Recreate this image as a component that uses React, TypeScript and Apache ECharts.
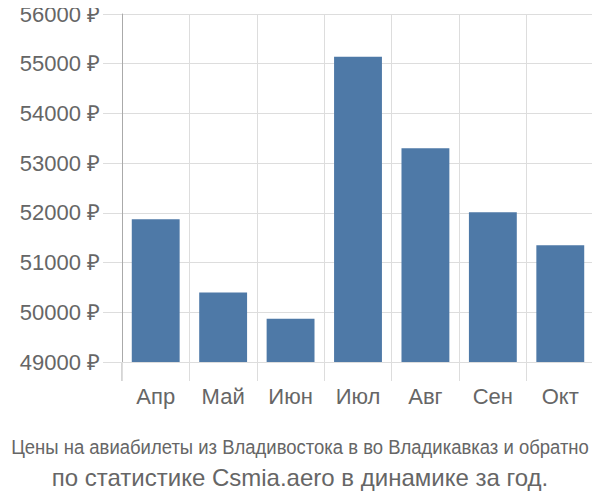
import React, { useEffect, useRef } from "react";
import * as echarts from "echarts";

const categories = ["Апр", "Май", "Июн", "Июл", "Авг", "Сен", "Окт"];
const prices = [51870, 50400, 49870, 55140, 53300, 52010, 51350];
const yMin = 49000;
const yMax = 56000;
const yStep = 1000;
const titleLine1 = "Цены на авиабилеты из Владивостока в во Владикавказ и обратно";
const titleLine2 = "по статистике Csmia.aero в динамике за год.";

const FONT = "'Liberation Sans', Arial, sans-serif";

export default function App() {
  const ref = useRef<HTMLDivElement>(null);
  useEffect(() => {
    if (!ref.current) return;
    const chart = echarts.init(ref.current, null, { renderer: "svg" });
    chart.setOption({
      animation: false,
      grid: { left: 122, right: 6, top: 14, bottom: 138, containLabel: false },
      xAxis: {
        type: "category",
        data: categories,
        axisLine: { show: false },
        axisTick: { show: true, length: 19, alignWithLabel: false, lineStyle: { color: "#ddd" } },
        splitLine: { show: true, lineStyle: { color: "#ddd" } },
        axisLabel: { margin: 23, fontSize: 22, color: "#666", fontFamily: FONT },
      },
      yAxis: {
        type: "value",
        min: yMin,
        max: yMax,
        interval: yStep,
        axisLine: { show: true, lineStyle: { color: "#aaa" } },
        axisTick: { show: true, length: 19, lineStyle: { color: "#ddd" } },
        splitLine: { show: true, lineStyle: { color: "#ddd" } },
        axisLabel: {
          formatter: (v: number) => `${v} ₽`,
          margin: 22,
          fontSize: 22,
          color: "#666",
          fontFamily: FONT,
        },
      },
      graphic: [
        { type: "line", shape: { x1: 122, y1: 362, x2: 122, y2: 381 }, style: { stroke: "#aaa", lineWidth: 1 } },
        {
          type: "text",
          x: 300,
          y: 447,
          scaleX: 0.925,
          scaleY: 1.05,
          originX: 0,
          originY: 0,
          style: {
            text: titleLine1,
            fontSize: 20,
            fontFamily: FONT,
            fill: "#666",
            align: "center",
            verticalAlign: "middle",
          },
        },
        {
          type: "text",
          x: 300,
          y: 477,
          style: {
            text: titleLine2,
            fontSize: 24,
            fontFamily: FONT,
            fill: "#666",
            align: "center",
            verticalAlign: "middle",
          },
        },
      ],
      series: [
        {
          type: "bar",
          data: prices,
          barCategoryGap: "29%",
          itemStyle: { color: "#4e79a7" },
        },
      ],
    });
    return () => chart.dispose();
  }, []);
  return <div ref={ref} style={{ width: 600, height: 500, margin: -8 }} />;
}
